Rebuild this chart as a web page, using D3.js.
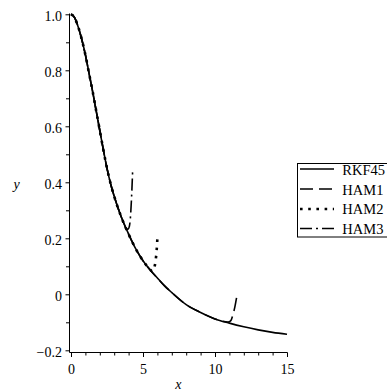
<!DOCTYPE html>
<html>
<head>
<meta charset="utf-8">
<script src="https://cdn.jsdelivr.net/npm/d3@7/dist/d3.min.js"></script>
<style>
  html, body { margin: 0; padding: 0; background: #fff; }
  svg { display: block; }
  text { font-family: "Liberation Serif", "Times New Roman", serif; fill: #000; }
</style>
</head>
<body>
<svg id="chart" width="387" height="392"></svg>
<script>
// ---- data ----
const rkfX = [0,0.25,0.5,0.75,1,1.25,1.5,1.75,2,2.25,2.5,2.75,3,3.5,4,4.5,5,5.5,6,6.5,7,8,9,10,11,12,13,14,15];
const rkfY = [1.0,0.988,0.955,0.91,0.855,0.79,0.725,0.655,0.585,0.515,0.45,0.395,0.35,0.275,0.215,0.162,0.12,0.087,0.058,0.03,0.006,-0.037,-0.065,-0.088,-0.103,-0.116,-0.127,-0.136,-0.143];

const ham1X = [0,0.25,0.5,0.75,1,1.25,1.5,1.75,2,2.25,2.5,2.75,3,3.5,4,4.5,5,5.5,6,6.5,7,8,9,10,10.5,10.9,11.1,11.25,11.38,11.5];
const ham1Y = [1.0,0.988,0.955,0.91,0.855,0.79,0.725,0.655,0.585,0.515,0.45,0.395,0.35,0.275,0.215,0.162,0.12,0.087,0.058,0.03,0.006,-0.037,-0.065,-0.088,-0.096,-0.099,-0.094,-0.072,-0.045,-0.012];

const ham2X = [0,0.25,0.5,0.75,1,1.25,1.5,1.75,2,2.25,2.5,2.75,3,3.5,4,4.5,5,5.5,5.65,5.75,5.88,5.95,6.0];
const ham2Y = [1.0,0.988,0.955,0.91,0.855,0.79,0.725,0.655,0.585,0.515,0.45,0.395,0.35,0.275,0.215,0.162,0.12,0.088,0.082,0.09,0.122,0.158,0.2];

const ham3X = [0,0.25,0.5,0.75,1,1.25,1.5,1.75,2,2.25,2.5,2.75,3,3.5,3.8,3.95,4.05,4.12,4.2,4.28];
const ham3Y = [1.0,0.988,0.955,0.91,0.855,0.79,0.725,0.655,0.585,0.515,0.45,0.395,0.35,0.275,0.237,0.232,0.242,0.27,0.34,0.44];

const seriesNames = ["RKF45", "HAM1", "HAM2", "HAM3"];
const xMajor = [0, 5, 10, 15];
const xMinor = [1,2,3,4,6,7,8,9,11,12,13,14];
const yMajor = [-0.2, 0, 0.2, 0.4, 0.6, 0.8, 1.0];
const yMinor = [-0.1, 0.1, 0.3, 0.5, 0.7, 0.9];
const yLabels = ["\u22120.2", "0", "0.2", "0.4", "0.6", "0.8", "1.0"];

// ---- layout ----
const svg = d3.select("#chart");
const x = d3.scaleLinear().domain([0, 15]).range([71, 287]);
const y = d3.scaleLinear().domain([-0.2, 1.0]).range([350.3, 14.3]);
const axX = 69.5, axY = 352.5;

const dashes = ["none", "13,6", "2.6,5.6", "12,4,2,4"];
const widths = [1.6, 1.6, 2.6, 1.6];

// axes lines
svg.append("line").attr("x1", axX).attr("x2", axX).attr("y1", 13.5).attr("y2", axY)
  .attr("stroke", "#000").attr("stroke-width", 1);
svg.append("line").attr("x1", axX).attr("x2", x(15) + 0.5).attr("y1", axY).attr("y2", axY)
  .attr("stroke", "#000").attr("stroke-width", 1);

// y ticks
const yAxis = d3.axisLeft(y).tickValues(yMajor).tickSize(4).tickPadding(3.5)
  .tickFormat((d, i) => yLabels[i]);
const gy = svg.append("g").attr("transform", `translate(${axX},0)`).call(yAxis);
gy.select(".domain").remove();
gy.selectAll("text").attr("font-size", 14).attr("font-family", "Liberation Serif").attr("dy", "0.42em");
const gyMinor = svg.append("g").attr("transform", `translate(${axX},0)`)
  .call(d3.axisLeft(y).tickValues(yMinor).tickSize(3.5).tickFormat(""));
gyMinor.select(".domain").remove();

// x ticks
const xAxis = d3.axisBottom(x).tickValues(xMajor).tickSize(4.5).tickPadding(7);
const gx = svg.append("g").attr("transform", `translate(0,${axY})`).call(xAxis);
gx.select(".domain").remove();
gx.selectAll("text").attr("font-size", 14).attr("font-family", "Liberation Serif").attr("dy", "0.71em");
const gxMinor = svg.append("g").attr("transform", `translate(0,${axY})`)
  .call(d3.axisBottom(x).tickValues(xMinor).tickSize(3).tickFormat(""));
gxMinor.select(".domain").remove();

// axis titles
svg.append("text").attr("x", 178.3).attr("y", 389).attr("text-anchor", "middle")
  .attr("font-size", 14).attr("font-style", "italic").text("x");
svg.append("text").attr("x", 16.7).attr("y", 188.5).attr("text-anchor", "middle")
  .attr("font-size", 14).attr("font-style", "italic").text("y");

// curves
const line = d3.line().x(d => x(d[0])).y(d => y(d[1])).curve(d3.curveMonotoneX);
const allX = [rkfX, ham1X, ham2X, ham3X];
const allY = [rkfY, ham1Y, ham2Y, ham3Y];
allX.forEach((xs, i) => {
  const pts = xs.map((v, j) => [v, allY[i][j]]);
  svg.append("path").attr("d", line(pts))
    .attr("fill", "none").attr("stroke", "#000")
    .attr("stroke-width", widths[i])
    .attr("stroke-dasharray", dashes[i]);
});

// legend
const lg = svg.append("g");
lg.append("rect").attr("x", 297.5).attr("y", 163.5).attr("width", 110).attr("height", 73.5)
  .attr("fill", "#fff").attr("stroke", "#000").attr("stroke-width", 1);
const lineYs = [169, 189, 209, 228.5];
const textYs = [174.5, 194.5, 214.2, 233.5];
seriesNames.forEach((name, i) => {
  lg.append("line").attr("x1", 300).attr("x2", 334).attr("y1", lineYs[i]).attr("y2", lineYs[i])
    .attr("stroke", "#000").attr("stroke-width", widths[i]).attr("stroke-dasharray", dashes[i]);
  lg.append("text").attr("x", 342.3).attr("y", textYs[i]).attr("font-size", 14.5).text(name);
});
</script>
</body>
</html>
